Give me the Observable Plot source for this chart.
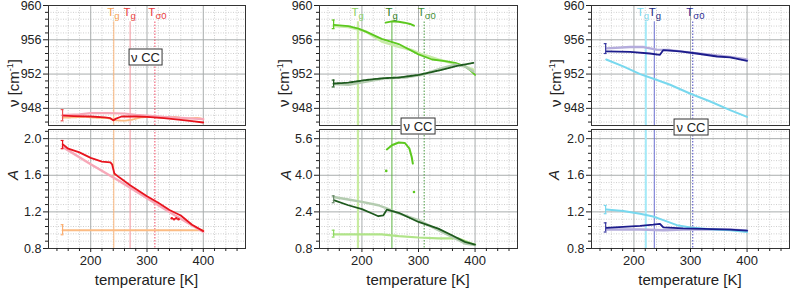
<!DOCTYPE html>
<html><head><meta charset="utf-8">
<script src="https://cdn.jsdelivr.net/npm/d3@7"></script>
<script src="https://cdn.jsdelivr.net/npm/@observablehq/plot@0.6"></script>
<style>
body{margin:0;background:#fff;font-family:"Liberation Sans",Arial,sans-serif;}
#chart{position:relative;width:791px;height:288px;overflow:hidden;background:#fff;}
.panel{position:absolute;}
.panel svg{overflow:visible;background:none;}
.box{position:absolute;border:1px solid #333;background:#fff;font-size:13px;line-height:15px;padding:0 2px;color:#222;white-space:nowrap;transform:translate(-50%,-50%);}
.ylab{position:absolute;font-size:15px;color:#222;white-space:nowrap;transform:translate(-50%,-50%) rotate(-90deg);}
.ylab sup{font-size:9px;}
.xlab{position:absolute;font-size:15px;color:#222;white-space:nowrap;transform:translate(-50%,-50%);}
</style></head><body><div id="chart"></div><script>
// ---- ticks ----
const xMajor = [200, 300, 400];
const xMinor = [140, 160, 180, 220, 240, 260, 280, 320, 340, 360, 380, 420, 440, 460];
const nuMajor = [948, 952, 956, 960];
const nuMinor = [946.4, 947.2, 948.8, 949.6, 950.4, 951.2, 952.8, 953.6, 954.4, 955.2, 956.8, 957.6, 958.4, 959.2];
const aMajor = [0.8, 1.2, 1.6, 2.0];
const aMinor = [0.88, 0.96, 1.04, 1.12, 1.28, 1.36, 1.44, 1.52, 1.68, 1.76, 1.84, 1.92, 2.08];
const aMajor2 = [0.8, 2.4, 4.0, 5.6];
const aMinor2 = [1.12, 1.44, 1.76, 2.08, 2.72, 3.04, 3.36, 3.68, 4.32, 4.64, 4.96, 5.28, 5.92];

// ---- panel 1 (red/orange) ----
const p1Tg = [241, 270];
const p1Ts = [314];
const p1NuRedT = [150, 170, 200, 225, 235, 240, 245, 255, 280, 300, 330, 360, 380, 400];
const p1NuRed  = [947.15, 947.1, 947.05, 946.95, 946.85, 946.6, 946.8, 947.05, 947.05, 947.0, 946.85, 946.65, 946.5, 946.35];
const p1NuPinkT = [150, 180, 200, 230, 260, 280, 300, 330, 360, 400];
const p1NuPink  = [947.2, 947.3, 947.45, 947.45, 947.4, 947.25, 947.15, 947.0, 946.9, 946.75];
const p1NuOrT = [150, 170, 190, 210, 230, 245, 260, 275, 290, 310, 330, 350, 370, 390, 400];
const p1NuOr  = [946.9, 946.95, 947.0, 946.9, 946.85, 946.6, 946.55, 946.7, 946.95, 947.0, 946.9, 947.0, 946.8, 946.9, 946.75];
const p1ARedT = [150, 160, 180, 200, 220, 235, 238, 242, 250, 270, 300, 320, 340, 360, 380, 400];
const p1ARed  = [1.94, 1.89, 1.85, 1.79, 1.75, 1.74, 1.72, 1.62, 1.58, 1.49, 1.37, 1.30, 1.22, 1.16, 1.06, 0.99];
const p1AOutT = [344, 348, 352, 356];
const p1AOut  = [1.13, 1.12, 1.13, 1.12];
const p1APinkT = [150, 200, 250, 300, 350, 400];
const p1APink  = [1.91, 1.72, 1.54, 1.35, 1.16, 0.98];
const p1AOrT = [150, 200, 250, 300, 350, 400];
const p1AOr  = [1.0, 1.0, 1.0, 1.0, 1.0, 1.0];

// ---- panel 2 (greens) ----
const p2Tg = [193, 253];
const p2Ts = [310];
const p2NuBrT = [150, 176, 194, 212, 235, 265, 300, 324, 347, 365, 382, 392, 400];
const p2NuBr  = [957.75, 957.6, 957.3, 956.8, 956.1, 955.5, 954.3, 953.7, 953.5, 953.3, 952.9, 952.4, 951.9];
const p2NuPaleT = [150, 176, 206, 235, 265, 288, 306, 335, 359, 382, 397];
const p2NuPale  = [957.6, 957.5, 957.0, 955.8, 955.2, 954.8, 954.3, 953.7, 953.3, 952.9, 952.5];
const p2NuArcT = [242, 253, 265, 275, 285, 292];
const p2NuArc  = [958.0, 958.15, 958.1, 958.0, 957.85, 957.65];
const p2NuDarkT = [150, 176, 206, 235, 265, 300, 335, 371, 397];
const p2NuDark  = [950.9, 951.0, 951.3, 951.5, 951.6, 951.9, 952.4, 953.0, 953.3];
const p2NuGrayT = [150, 176, 206, 241, 276, 306, 341, 365, 382, 397];
const p2NuGray  = [950.85, 950.75, 951.1, 951.5, 951.6, 951.9, 952.7, 953.1, 952.9, 952.3];
const p2AArcT = [244, 253, 265, 276, 284, 288, 290];
const p2AArc  = [5.13, 5.31, 5.43, 5.41, 5.16, 4.8, 4.51];
const p2AOutT = [243, 292];
const p2AOut  = [4.19, 3.27];
const p2ADarkT = [150, 176, 200, 218, 229, 238, 244, 265, 300, 335, 359, 382, 400];
const p2ADark  = [2.91, 2.69, 2.52, 2.33, 2.21, 2.25, 2.5, 2.36, 1.96, 1.67, 1.38, 1.09, 0.97];
const p2AGrayT = [150, 176, 200, 229, 244, 265, 300, 335, 365, 382, 400];
const p2AGray  = [3.05, 2.94, 2.84, 2.69, 2.55, 2.33, 2.04, 1.6, 1.24, 1.02, 0.95];
const p2ALightT = [150, 206, 235, 265, 300, 335, 371, 394, 400];
const p2ALight  = [1.42, 1.42, 1.42, 1.34, 1.28, 1.24, 1.24, 1.02, 0.97];

// ---- panel 3 (blues) ----
const p3Tg = [221, 236];
const p3Ts = [304];
const p3NuLavT = [151, 193, 217, 240, 264, 300, 335, 370, 400];
const p3NuLav  = [955.0, 955.15, 955.15, 954.85, 954.8, 954.5, 954.25, 954.0, 953.7];
const p3NuNavyT = [151, 193, 228, 246, 252, 282, 311, 347, 370, 400];
const p3NuNavy  = [954.65, 954.6, 954.4, 954.25, 954.8, 954.65, 954.4, 954.05, 953.95, 953.55];
const p3NuCyanT = [151, 181, 211, 237, 264, 300, 335, 370, 400];
const p3NuCyan  = [953.7, 952.9, 952.0, 951.4, 950.75, 949.7, 948.8, 947.8, 947.0];
const p3ACyanT = [151, 181, 211, 234, 252, 276, 300, 335, 370, 400];
const p3ACyan  = [1.225, 1.21, 1.18, 1.15, 1.11, 1.055, 1.03, 1.01, 1.0, 0.98];
const p3ANavyT = [151, 181, 211, 234, 246, 252, 287, 323, 370, 400];
const p3ANavy  = [1.025, 1.036, 1.047, 1.06, 1.07, 1.03, 1.02, 1.015, 1.007, 0.995];
const p3ALavT = [151, 211, 252, 300, 370, 400];
const p3ALav  = [1.007, 1.007, 1.0, 1.01, 1.007, 0.995];

// ---- error bars at start temperature [low, high] ----
const errT = 150;
const p1NuErr = [946.55, 947.85];
const p1AErrRed = [1.89, 1.98];
const p1AErrOr = [0.95, 1.06];
const p2NuErrBr = [957.3, 958.3];
const p2NuErrDark = [950.5, 951.3];
const p2AErrLight = [1.3, 1.6];
const p2AErrDark = [2.8, 3.1];
const p3NuErrNavy = [954.4, 955.55];
const p3AErrCyan = [1.18, 1.27];
const p3AErrNavy = [0.98, 1.08];

const rows = (T, V) => T.map((t, i) => ({t, v: V[i]}));
const xDomain = [125, 475];
const chart = document.getElementById("chart");

function errMarks(lohi, color) {
  const d = [{t: errT, lo: lohi[0], hi: lohi[1]}];
  return [
    Plot.ruleX(d, {x: "t", y1: "lo", y2: "hi", stroke: color, strokeWidth: 1.2}),
    Plot.ruleY(d, {y: "lo", x1: d => d.t - 2.5, x2: d => d.t + 2.5, stroke: color, strokeWidth: 1.2}),
    Plot.ruleY(d, {y: "hi", x1: d => d.t - 2.5, x2: d => d.t + 2.5, stroke: color, strokeWidth: 1.2})
  ];
}

function panel(o) {
  const marks = [
    Plot.gridX(xMinor, {stroke: "#cfcfcf", strokeOpacity: 1, strokeDasharray: "1,1.5"}),
    Plot.gridY(o.yMinor, {stroke: "#cfcfcf", strokeOpacity: 1, strokeDasharray: "1,1.5"}),
    Plot.gridX(xMajor, {stroke: "#a9adad", strokeOpacity: 1}),
    Plot.gridY(o.yMajor, {stroke: "#a9adad", strokeOpacity: 1}),
  ];
  for (const r of o.rules) {
    const opts = {x: d => d, stroke: r.color, strokeWidth: r.w || 1, strokeDasharray: r.dash};
    if (o.ruleTop != null) { opts.y1 = o.yDomain[0]; opts.y2 = o.ruleTop; }
    marks.push(Plot.ruleX([r.t], opts));
  }
  for (const s of o.series) {
    marks.push(Plot.line(s.data, {x: "t", y: "v", stroke: s.color, strokeWidth: s.w || 1.8, strokeDasharray: s.dash, strokeLinejoin: "round"}));
  }
  for (const s of (o.dots || [])) {
    marks.push(Plot.dot(s.data, {x: "t", y: "v", fill: s.color, r: 1.3}));
  }
  for (const e of (o.errs || [])) marks.push(...errMarks(e.lohi, e.color));
  for (const l of (o.labels || [])) {
    const dx = l.dx || 0;
    marks.push(Plot.text([l.t], {x: d => d, text: () => "T", frameAnchor: "top", lineAnchor: "top", textAnchor: "end", dx: dx + 0.5, dy: 2, fill: l.color, fontSize: 11.5}));
    marks.push(Plot.text([l.t], {x: d => d, text: () => l.sub, frameAnchor: "top", lineAnchor: "top", textAnchor: "start", dx: dx + 0.5, dy: 6.5, fill: l.color, fontSize: 9.5}));
  }
  marks.push(Plot.frame({stroke: "#333", strokeWidth: 1}));
  marks.push(Plot.axisY(o.yMajor, {tickSize: 5, tickPadding: 2, tickFormat: o.yFmt, label: null}));
  marks.push(Plot.axisY(o.yMinor, {tickSize: 3, tickFormat: () => "", label: null}));
  if (o.showX) {
    marks.push(Plot.axisX(xMajor, {tickSize: 4, tickPadding: 3, label: null, fontSize: 13}));
    marks.push(Plot.axisX(xMinor, {tickSize: 3, tickFormat: () => "", label: null}));
  }
  const svg = Plot.plot({
    width: o.width, height: o.height,
    marginLeft: o.mL, marginRight: o.mR, marginTop: o.mT, marginBottom: o.mB,
    x: {domain: xDomain, axis: null},
    y: {domain: o.yDomain, axis: null},
    style: {fontSize: "12.5px", fontFamily: "'Liberation Sans', Arial, sans-serif", color: "#222", background: "none", overflow: "visible"},
    marks
  });
  const div = document.createElement("div");
  div.className = "panel";
  div.style.left = o.left + "px";
  div.style.top = o.top + "px";
  div.appendChild(svg);
  chart.appendChild(div);
}

const cols = [
  {left: 0, width: 265, mL: 48, mR: 20},
  {left: 265, width: 270, mL: 54, mR: 18},
  {left: 535, width: 256, mL: 56, mR: 2}
];
const topRow = {top: 0, height: 127, mT: 5, mB: 2, yDomain: [946, 960], yMajor: nuMajor, yMinor: nuMinor, yFmt: d => String(d), ruleTop: 958.1, showX: false};
const botRow = {top: 127, height: 161, mT: 2, mB: 40, showX: true, ruleTop: null};

// Panel 1
const p1Rules = [
  {t: p1Tg[0], color: "#f9b47a"},
  {t: p1Tg[1], color: "#f2939b"},
  {t: p1Ts[0], color: "#ee4a64", dash: "1.5,1.5"}
];
panel({...cols[0], ...topRow, rules: p1Rules,
  labels: [{t: p1Tg[0], sub: "g", color: "#f5a050"}, {t: p1Tg[1], sub: "g", color: "#e83c3c"}, {t: p1Ts[0], sub: "σ0", color: "#e83c3c"}],
  series: [
    {data: rows(p1NuOrT, p1NuOr), color: "#fcbc84", dash: "2,1"},
    {data: rows(p1NuPinkT, p1NuPink), color: "#f7a8b8", w: 2.2},
    {data: rows(p1NuRedT, p1NuRed), color: "#e8141e"}
  ],
  errs: [{lohi: p1NuErr, color: "#ee5050"}]
});
panel({...cols[0], ...botRow, yDomain: [0.8, 2.1], yMajor: aMajor, yMinor: aMinor, yFmt: d => d.toFixed(1), rules: p1Rules,
  series: [
    {data: rows(p1AOrT, p1AOr), color: "#fcbc84", w: 2},
    {data: rows(p1APinkT, p1APink), color: "#f7a8b8", w: 2.4},
    {data: rows(p1ARedT, p1ARed), color: "#e8141e"}
  ],
  dots: [{data: rows(p1AOutT, p1AOut), color: "#e8141e"}],
  errs: [{lohi: p1AErrRed, color: "#e8141e"}, {lohi: p1AErrOr, color: "#fcae70"}]
});

// Panel 2
const p2Rules = [
  {t: p2Tg[0], color: "#c8eca0", w: 2.2},
  {t: p2Tg[1], color: "#5cb440"},
  {t: p2Ts[0], color: "#4a9a40", dash: "1.5,1.5"}
];
panel({...cols[1], ...topRow, rules: p2Rules,
  labels: [{t: p2Tg[0], sub: "g", color: "#8ed062"}, {t: p2Tg[1], sub: "g", color: "#2f7d22"}, {t: p2Ts[0], sub: "σ0", color: "#3f8f35"}],
  series: [
    {data: rows(p2NuPaleT, p2NuPale), color: "#c8eca8", w: 2.6},
    {data: rows(p2NuBrT, p2NuBr), color: "#5cc81e"},
    {data: rows(p2NuArcT, p2NuArc), color: "#5cc81e", w: 2},
    {data: rows(p2NuGrayT, p2NuGray), color: "#b4ccb0", w: 2.4},
    {data: rows(p2NuDarkT, p2NuDark), color: "#1e5a1e", dash: "3,1"}
  ],
  errs: [{lohi: p2NuErrBr, color: "#5cc81e"}, {lohi: p2NuErrDark, color: "#1e5a1e"}]
});
panel({...cols[1], ...botRow, yDomain: [0.8, 6.0], yMajor: aMajor2, yMinor: aMinor2, yFmt: d => d.toFixed(1), rules: p2Rules,
  series: [
    {data: rows(p2ALightT, p2ALight), color: "#b0e488", w: 2.2},
    {data: rows(p2AGrayT, p2AGray), color: "#b4ccb0", w: 2.4},
    {data: rows(p2ADarkT, p2ADark), color: "#1e5a1e"},
    {data: rows(p2AArcT, p2AArc), color: "#5cc81e", w: 2}
  ],
  dots: [{data: rows(p2AOutT, p2AOut), color: "#5cc81e"}],
  errs: [{lohi: p2AErrLight, color: "#8cd860"}, {lohi: p2AErrDark, color: "#6a8a6a"}]
});

// Panel 3
const p3Rules = [
  {t: p3Tg[0], color: "#a4eaf8", w: 2},
  {t: p3Tg[1], color: "#6a70d0"},
  {t: p3Ts[0], color: "#4848c0", dash: "1.5,1.5"}
];
panel({...cols[2], ...topRow, rules: p3Rules,
  labels: [{t: p3Tg[0], sub: "g", color: "#7cd8ee", dx: -2.5}, {t: p3Tg[1], sub: "g", color: "#1c2a80", dx: 1}, {t: p3Ts[0], sub: "σ0", color: "#2a2a90"}],
  series: [
    {data: rows(p3NuLavT, p3NuLav), color: "#b4acdc", w: 2.4},
    {data: rows(p3NuNavyT, p3NuNavy), color: "#1c1c8c"},
    {data: rows(p3NuCyanT, p3NuCyan), color: "#78d8ee", w: 2}
  ],
  errs: [{lohi: p3NuErrNavy, color: "#3a3aa0"}]
});
panel({...cols[2], ...botRow, yDomain: [0.8, 2.1], yMajor: aMajor, yMinor: aMinor, yFmt: d => d.toFixed(1), rules: p3Rules,
  series: [
    {data: rows(p3ALavT, p3ALav), color: "#b4acdc", w: 2.4},
    {data: rows(p3ACyanT, p3ACyan), color: "#78d8ee", w: 2},
    {data: rows(p3ANavyT, p3ANavy), color: "#1c1c8c"}
  ],
  errs: [{lohi: p3AErrCyan, color: "#78d8ee"}, {lohi: p3AErrNavy, color: "#3a3aa0"}]
});

// ---- text overlays ----
function addDiv(cls, html, x, y) {
  const d = document.createElement("div");
  d.className = cls; d.innerHTML = html;
  d.style.left = x + "px"; d.style.top = y + "px";
  chart.appendChild(d);
}
const nuLabelX = [12.5, 283, 555];
const aLabelX = [12, 285, 553];
const xTitleX = [146.5, 418, 690];
nuLabelX.forEach(x => addDiv("ylab", "ν [cm<sup>-1</sup>]", x, 83));
aLabelX.forEach(x => addDiv("ylab", "<i>A</i>", x, 175));
xTitleX.forEach(x => addDiv("xlab", "temperature [K]", x, 279));
addDiv("box", "ν CC", 145.5, 57);
addDiv("box", "ν CC", 418, 125.5);
addDiv("box", "ν CC", 691, 127);
</script></body></html>
